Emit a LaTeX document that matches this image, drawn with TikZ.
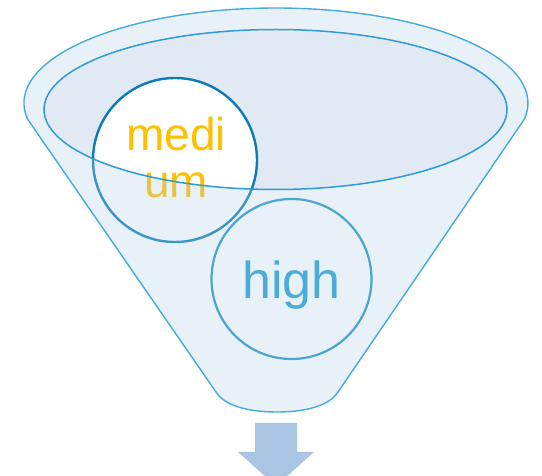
\documentclass[tikz,border=0pt]{standalone}
\usepackage{fontspec}
\setmainfont{Liberation Sans}
\definecolor{rimline}{HTML}{45ABDA}
\definecolor{innerline}{HTML}{2D9CD3}
\definecolor{innerfill}{HTML}{E1EAF4}
\definecolor{ovlc}{HTML}{B6D0E8}
\definecolor{medline}{HTML}{0B7CB6}
\definecolor{medtext}{HTML}{FFC000}
\definecolor{highline}{HTML}{1D93C6}
\definecolor{hightext}{HTML}{1D9ED1}
\definecolor{arrowc}{HTML}{A9C5E3}
\tikzset{
  funnelpath/.style={insert path={(27.8,119.5) arc[start angle=170,end angle=370,x radius=252,y radius=95]
     -- (338,392) .. controls (332,402) and (314,412) .. (277,412)
     .. controls (240,412) and (222,402) .. (216,392) -- cycle}},
  ball/.style={circle, inner sep=0pt, outer sep=0pt, fill=white},
  word/.style={anchor=base, inner sep=0pt}
}
\begin{document}
\begin{tikzpicture}[x=1pt,y=-1pt]
\useasboundingbox (0,0) rectangle (542,476);
% inner opening
\fill[innerfill] (275.5,109.5) ellipse [x radius=231.5, y radius=80];
% balls
\node[ball, draw=medline, line width=2.4pt, minimum size=164pt] (medc) at (175,160) {};
\node[word, text=medtext, font=\fontsize{46}{46}\selectfont] (mediA) at (176,151) {medi};
\node[word, text=medtext, font=\fontsize{46}{46}\selectfont] (mediB) at (176,198) {um};
\node[ball, draw=highline, line width=2.2pt, minimum size=160pt] (highc) at (291.5,279) {};
\node[word, text=hightext, font=\fontsize{52}{52}\selectfont] (hight) at (291.5,299) {high};
% translucent front of the funnel
\fill[ovlc, fill opacity=0.3, even odd rule, funnelpath] (275.5,109.5) ellipse [x radius=231.5, y radius=80];
% outlines
\draw[innerline, line width=1.5pt] (275.5,109.5) ellipse [x radius=231.5, y radius=80];
\draw[rimline, line width=1.4pt, line join=round, funnelpath];
% outlet arrow
\begin{scope}
\clip (0,0) rectangle (542,476);
\fill[arrowc] (255,423) -- (297,423) -- (297,452) -- (314,452) -- (276,486) -- (238,452) -- (255,452) -- cycle;
\end{scope}
\end{tikzpicture}
\end{document}
